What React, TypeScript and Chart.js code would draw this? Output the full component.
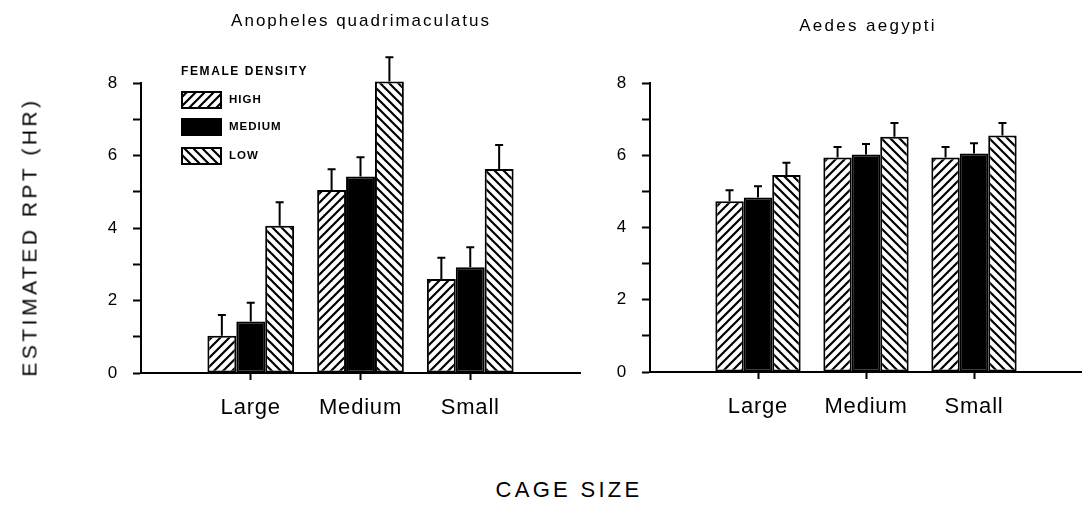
import React, { useEffect, useRef } from 'react';
import { Chart, registerables } from 'chart.js';

Chart.register(...registerables);

// ---------- data ----------
const CATEGORIES = ['', 'Large', 'Medium', 'Small', ''];
const SERIES_LABELS = ['HIGH', 'MEDIUM', 'LOW'];
const LEGEND_TITLE = 'FEMALE DENSITY';
const LEFT_TITLE = 'Anopheles quadrimaculatus';
const RIGHT_TITLE = 'Aedes aegypti';
const Y_TITLE = 'ESTIMATED RPT (HR)';
const X_TITLE = 'CAGE SIZE';
const Y_TICKS = [0, 2, 4, 6, 8];

// Anopheles quadrimaculatus: mean and error (upper bar length)
const ANO_HIGH = [null, 1.03, 5.05, 2.59, null];
const ANO_MEDIUM = [null, 1.42, 5.42, 2.92, null];
const ANO_LOW = [null, 4.06, 8.04, 5.63, null];
const ANO_HIGH_ERR = [null, 0.57, 0.57, 0.59, null];
const ANO_MEDIUM_ERR = [null, 0.52, 0.53, 0.55, null];
const ANO_LOW_ERR = [null, 0.65, 0.67, 0.66, null];

// Aedes aegypti
const AED_HIGH = [null, 4.73, 5.94, 5.94, null];
const AED_MEDIUM = [null, 4.83, 6.02, 6.05, null];
const AED_LOW = [null, 5.45, 6.51, 6.55, null];
const AED_HIGH_ERR = [null, 0.30, 0.29, 0.29, null];
const AED_MEDIUM_ERR = [null, 0.31, 0.29, 0.28, null];
const AED_LOW_ERR = [null, 0.34, 0.38, 0.34, null];

const FONT = '"Liberation Sans", Arial, Helvetica, sans-serif';

function hatch(dir: '/' | '\\'): CanvasPattern | string {
  const s = 9;
  const c = document.createElement('canvas');
  c.width = s;
  c.height = s;
  const g = c.getContext('2d');
  if (!g) return '#fff';
  g.fillStyle = '#fff';
  g.fillRect(0, 0, s, s);
  g.strokeStyle = '#000';
  g.lineWidth = 2.2;
  g.beginPath();
  if (dir === '/') {
    g.moveTo(0, s); g.lineTo(s, 0);
    g.moveTo(-1, 1); g.lineTo(1, -1);
    g.moveTo(s - 1, s + 1); g.lineTo(s + 1, s - 1);
  } else {
    g.moveTo(0, 0); g.lineTo(s, s);
    g.moveTo(-1, s - 1); g.lineTo(1, s + 1);
    g.moveTo(s - 1, -1); g.lineTo(s + 1, 1);
  }
  g.stroke();
  const p = g.createPattern(c, 'repeat');
  return p || '#fff';
}

const errorBarPlugin = {
  id: 'errorBars',
  afterDatasetsDraw(chart: any) {
    const ctx = chart.ctx;
    const ys = chart.scales.y;
    chart.data.datasets.forEach((ds: any, i: number) => {
      const meta = chart.getDatasetMeta(i);
      meta.data.forEach((el: any, j: number) => {
        const v = ds.data[j];
        const e = ds.errors ? ds.errors[j] : null;
        if (v == null || e == null) return;
        const x = el.x;
        const y0 = ys.getPixelForValue(v);
        const y1 = ys.getPixelForValue(v + e);
        ctx.save();
        ctx.strokeStyle = '#000';
        ctx.lineWidth = 2;
        ctx.beginPath();
        ctx.moveTo(x, y0);
        ctx.lineTo(x, y1);
        ctx.moveTo(x - 4, y1);
        ctx.lineTo(x + 4, y1);
        ctx.stroke();
        ctx.restore();
      });
    });
  },
};

const spacingPlugin = {
  id: 'letterSpacing',
  beforeDraw(chart: any) {
    try { (chart.ctx as any).letterSpacing = '0.8px'; } catch (e) { /* ignore */ }
  },
};

const legendPlugin = {
  id: 'boxLegend',
  afterDraw(chart: any, _args: any, opts: any) {
    if (!opts || !opts.show) return;
    const ctx = chart.ctx;
    ctx.save();
    (ctx as any).letterSpacing = '1.6px';
    ctx.fillStyle = '#000';
    ctx.textBaseline = 'middle';
    ctx.textAlign = 'left';
    ctx.font = `bold 12px ${FONT}`;
    ctx.fillText(LEGEND_TITLE, 181, 72);
    const boxY = [91, 118, 147];
    (ctx as any).letterSpacing = '1px';
    ctx.font = `bold 11.5px ${FONT}`;
    chart.data.datasets.forEach((ds: any, i: number) => {
      const y = boxY[i];
      ctx.fillStyle = ds.backgroundColor;
      ctx.fillRect(181, y, 41, 18);
      ctx.strokeStyle = '#000';
      ctx.lineWidth = 2;
      ctx.strokeRect(182, y + 1, 39, 16);
      ctx.fillStyle = '#000';
      ctx.fillText(ds.label, 229, y + 9);
    });
    ctx.restore();
  },
};

function makeConfig(high: any[], med: any[], low: any[], eh: any[], em: any[], el: any[], padding: any, showLegend: boolean) {
  const base = {
    borderColor: '#000',
    borderWidth: 2,
    borderSkipped: false as const,
    categoryPercentage: 0.79,
    barPercentage: 1.0,
    clip: false as const,
  };
  return {
    type: 'bar' as const,
    data: {
      labels: CATEGORIES,
      datasets: [
        { ...base, label: SERIES_LABELS[0], data: high, errors: eh, backgroundColor: hatch('/') },
        { ...base, label: SERIES_LABELS[1], data: med, errors: em, backgroundColor: '#000' },
        { ...base, label: SERIES_LABELS[2], data: low, errors: el, backgroundColor: hatch('\\') },
      ],
    },
    options: {
      responsive: false,
      animation: false as const,
      events: [] as any[],
      layout: { padding },
      plugins: {
        legend: { display: false },
        tooltip: { enabled: false },
        title: { display: false },
        boxLegend: { show: showLegend },
      },
      scales: {
        x: {
          type: 'category' as const,
          offset: false,
          afterFit: (s: any) => { s.height = 60; s.paddingLeft = 0; s.paddingRight = 0; },
          border: { display: true, color: '#000', width: 2 },
          grid: {
            offset: false,
            drawOnChartArea: false,
            drawTicks: true,
            tickLength: 7,
            tickWidth: 2,
            color: (c: any) => (c.index === 0 || c.index === CATEGORIES.length - 1 ? 'rgba(0,0,0,0)' : '#000'),
          },
          ticks: {
            autoSkip: false,
            maxRotation: 0,
            padding: 15,
            color: '#000',
            font: { family: FONT, size: 22 },
          },
        },
        y: {
          min: 0,
          max: 8,
          afterFit: (s: any) => { s.width = 60; s.paddingTop = 0; s.paddingBottom = 0; },
          border: { display: true, color: '#000', width: 2 },
          grid: {
            drawOnChartArea: false,
            drawTicks: true,
            tickLength: 8,
            tickWidth: 2,
            color: '#000',
          },
          ticks: {
            stepSize: 1,
            padding: 15,
            color: '#000',
            font: { family: FONT, size: 17 },
            callback: (v: any) => (Y_TICKS.includes(Number(v)) ? String(v) : ''),
          },
        },
      },
    },
    plugins: [errorBarPlugin, spacingPlugin, legendPlugin],
  };
}

const textBase: React.CSSProperties = {
  position: 'absolute',
  fontFamily: FONT,
  color: '#000',
  whiteSpace: 'nowrap',
  lineHeight: 1,
};

export default function App() {
  const leftRef = useRef<HTMLCanvasElement | null>(null);
  const rightRef = useRef<HTMLCanvasElement | null>(null);

  useEffect(() => {
    if (!leftRef.current || !rightRef.current) return;
    const left = new Chart(
      leftRef.current,
      makeConfig(ANO_HIGH, ANO_MEDIUM, ANO_LOW, ANO_HIGH_ERR, ANO_MEDIUM_ERR, ANO_LOW_ERR,
        { left: 81, right: 10, top: 83, bottom: 17 }, true) as any
    );
    const right = new Chart(
      rightRef.current,
      makeConfig(AED_HIGH, AED_MEDIUM, AED_LOW, AED_HIGH_ERR, AED_MEDIUM_ERR, AED_LOW_ERR,
        { left: 0, right: 0, top: 83, bottom: 18 }, false) as any
    );
    return () => {
      left.destroy();
      right.destroy();
    };
  }, []);

  return (
    <div style={{ position: 'absolute', left: 0, top: 0, width: 1082, height: 506, background: '#fff', overflow: 'hidden' }}>
      <canvas ref={leftRef} width={590} height={450} style={{ position: 'absolute', left: 0, top: 0, width: 590, height: 450 }} />
      <canvas ref={rightRef} width={492} height={450} style={{ position: 'absolute', left: 590, top: 0, width: 492, height: 450 }} />
      <div style={{ ...textBase, left: 361, top: 20, fontSize: 17, letterSpacing: '2px', transform: 'translate(-50%, -50%)' }}>{LEFT_TITLE}</div>
      <div style={{ ...textBase, left: 868, top: 25, fontSize: 17, letterSpacing: '2.3px', transform: 'translate(-50%, -50%)' }}>{RIGHT_TITLE}</div>
      <div style={{ ...textBase, left: 29, top: 237, fontSize: 21, letterSpacing: '3.5px', transform: 'translate(-50%, -50%) rotate(-90deg)' }}>{Y_TITLE}</div>
      <div style={{ ...textBase, left: 569, top: 490, fontSize: 22, letterSpacing: '3.3px', transform: 'translate(-50%, -50%)' }}>{X_TITLE}</div>
    </div>
  );
}
